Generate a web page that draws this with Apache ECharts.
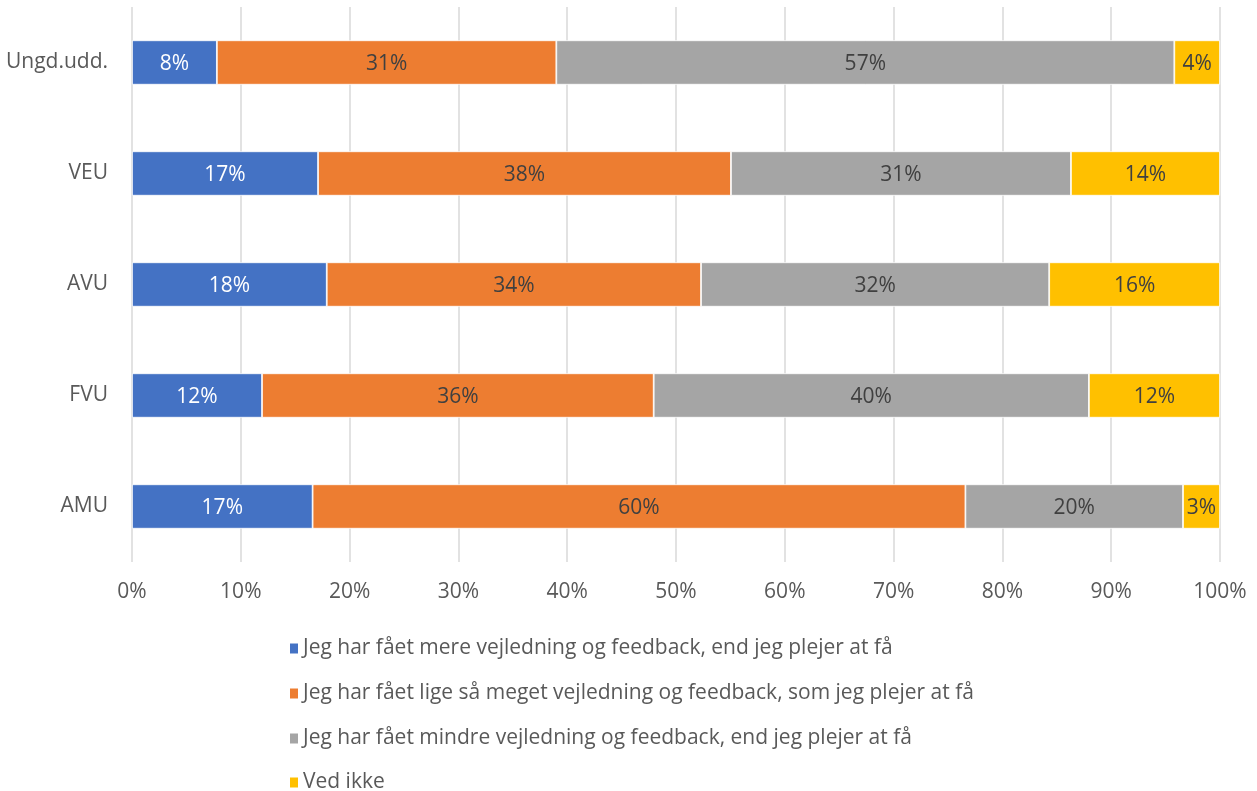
<!DOCTYPE html>
<html><head><meta charset="utf-8">
<script src="https://cdn.jsdelivr.net/npm/echarts@6/dist/echarts.min.js"></script>
<style>html,body{margin:0;padding:0;background:#fff}#c{width:1257px;height:791px}</style>
</head><body><div id="c"></div>
<script>
const categories = ['Ungd.udd.', 'VEU', 'AVU', 'FVU', 'AMU'];
const seriesNames = [
  'Jeg har fået mere vejledning og feedback, end jeg plejer at få',
  'Jeg har fået lige så meget vejledning og feedback, som jeg plejer at få',
  'Jeg har fået mindre vejledning og feedback, end jeg plejer at få',
  'Ved ikke'
];
const mere = [7.8, 17.1, 17.9, 11.95, 16.6];
const ligeSaa = [31.2, 37.95, 34.4, 36.0, 60.0];
const mindre = [56.8, 31.25, 32.0, 40.0, 20.0];
const vedIkke = [4.2, 13.7, 15.7, 12.05, 3.4];
const tickLabels = ['0%','10%','20%','30%','40%','50%','60%','70%','80%','90%','100%'];

const colors = ['#4472c4', '#ed7d31', '#a5a5a5', '#ffc000'];
const labelColors = ['#ffffff', '#404040', '#404040', '#404040'];
const values = [mere, ligeSaa, mindre, vedIkke];
const font = '"Open Sans", Lato, sans-serif';
const fs = 21;
const legendTops = [638, 683, 728, 772];

const chart = echarts.init(document.getElementById('c'));
chart.setOption({
  animation: false,
  color: colors,
  textStyle: { fontFamily: font },
  grid: { left: 132, right: 37, top: 7, bottom: 229, containLabel: false },
  xAxis: {
    type: 'value', min: 0, max: 100, interval: 10,
    axisLine: { show: false }, axisTick: { show: false },
    splitLine: { lineStyle: { color: '#d9d9d9', width: 1.5 } },
    axisLabel: {
      color: '#595959', fontSize: fs, fontFamily: font, margin: 20,
      formatter: v => tickLabels[Math.round(v / 10)]
    }
  },
  yAxis: {
    type: 'category', data: categories, inverse: true,
    axisLine: { show: false }, axisTick: { show: false },
    axisLabel: { color: '#595959', fontSize: fs, fontFamily: font, margin: 24 }
  },
  legend: seriesNames.map((n, i) => ({
    orient: 'vertical', left: 288, top: legendTops[i], padding: 0,
    itemWidth: 10, itemHeight: 12, icon: 'rect', itemGap: 0,
    textStyle: { color: '#595959', fontSize: fs, fontFamily: font, padding: [0,0,0,-1] },
    data: [n]
  })),
  series: seriesNames.map((name, i) => ({
    name, type: 'bar', stack: 'total', barWidth: '40%',
    data: values[i],
    itemStyle: { color: colors[i], borderColor: '#fff', borderWidth: 0.8 },
    label: {
      show: true, position: 'inside', color: labelColors[i],
      fontSize: fs, fontFamily: font, offset: [0, 2],
      formatter: p => Math.round(p.value) + '%'
    }
  }))
});
</script></body></html>
